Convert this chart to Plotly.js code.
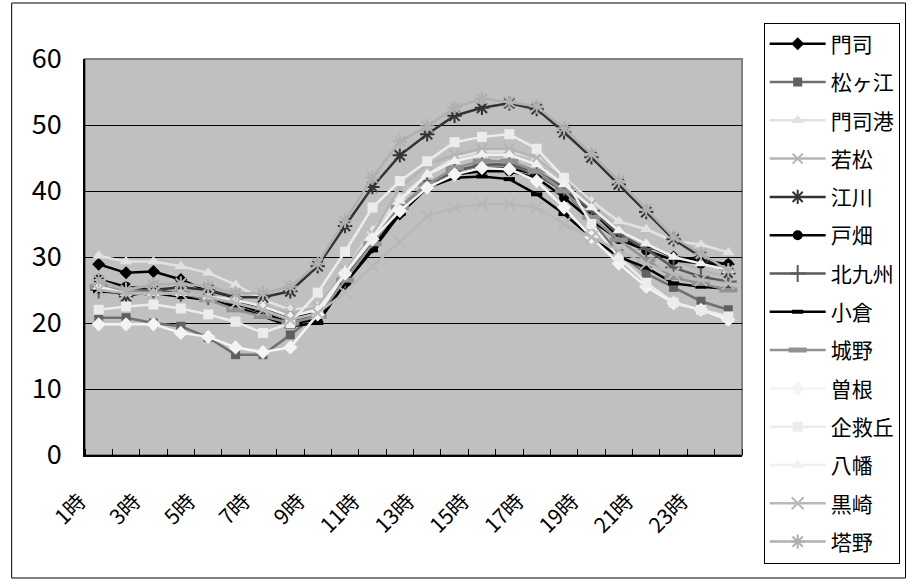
<!DOCTYPE html>
<html><head><meta charset="utf-8">
<script src="https://cdn.plot.ly/plotly-3.0.1.min.js"></script>
<style>html,body{margin:0;padding:0;background:#fff}#chart{width:912px;height:579px}</style>
</head><body><div id="chart"></div>
<script>
const hours = [1,2,3,4,5,6,7,8,9,10,11,12,13,14,15,16,17,18,19,20,21,22,23,24];
const hourLabels = ['1時','2時','3時','4時','5時','6時','7時','8時','9時','10時','11時','12時','13時','14時','15時','16時','17時','18時','19時','20時','21時','22時','23時','24時'];
const seriesNames = ['門司','松ヶ江','門司港','若松','江川','戸畑','北九州','小倉','城野','曽根','企救丘','八幡','黒崎','塔野'];

const moji       = [28.9,27.6,27.8,26.6,24.8,23.5,22.3,21.0,21.5,26.0,31.5,36.5,40.5,42.5,43.5,43.5,42.5,40.0,37.0,33.0,31.5,30.0,29.5,28.9];
const matsugae   = [20.8,20.8,20.0,19.5,17.8,15.2,15.2,18.2,21.5,27.0,32.5,37.5,41.0,43.0,44.0,44.0,42.5,40.0,35.5,30.5,27.5,25.4,23.3,22.0];
const mojiko     = [30.2,29.3,29.3,28.6,27.6,25.8,23.5,22.0,22.5,28.0,34.0,39.0,42.5,45.0,46.0,46.0,45.0,42.0,38.5,35.4,34.2,32.4,31.9,30.7];
const wakamatsu  = [26.0,25.5,25.5,25.0,24.5,23.5,22.5,21.5,22.5,28.0,33.5,40.5,44.0,45.5,46.4,46.4,45.0,41.8,38.0,34.0,31.5,29.5,28.0,27.0];
const egawa      = [25.8,24.0,25.0,25.4,25.0,23.9,23.9,24.8,28.6,34.7,40.6,45.4,48.6,51.4,52.6,53.3,52.4,48.9,45.1,41.0,36.8,32.7,30.0,27.5];
const tobata     = [26.6,25.5,25.0,24.3,24.0,23.0,21.5,20.0,20.5,26.3,32.0,37.0,40.5,42.5,43.0,43.0,42.0,39.0,35.5,32.7,31.0,29.5,29.0,28.9];
const kitakyushu = [25.0,25.0,25.0,24.5,24.0,23.0,22.0,20.5,21.0,26.5,32.0,37.5,41.0,43.0,44.0,44.0,43.0,40.5,37.0,33.5,31.2,28.4,27.0,26.3];
const kokura     = [24.8,24.5,24.5,24.0,23.5,22.5,21.0,19.5,20.0,26.0,31.0,36.5,40.5,42.0,42.2,41.8,39.5,36.5,33.0,30.0,28.4,26.0,25.5,25.2];
const jono       = [25.5,25.0,24.5,24.5,23.5,22.0,21.0,20.0,21.0,26.5,32.0,37.5,41.0,43.5,44.5,44.5,43.0,40.0,36.0,32.6,29.6,26.9,26.0,25.0];
const sone       = [19.8,19.8,19.8,18.5,17.9,16.3,15.6,16.3,21.3,27.5,32.7,37.0,40.5,42.5,43.5,43.3,41.5,37.5,33.0,29.0,25.5,23.0,22.0,20.5];
const kikugaoka  = [22.0,22.5,22.8,22.2,21.3,20.2,18.5,20.0,24.6,30.8,37.5,41.5,44.5,47.4,48.2,48.6,46.4,42.0,35.0,30.0,26.1,23.1,22.0,21.0];
const yahata     = [25.5,24.5,24.5,24.5,24.0,23.5,22.5,21.0,22.0,27.5,33.0,38.5,42.5,44.5,45.5,45.5,44.0,41.0,37.5,34.0,32.0,30.0,29.0,28.0];
const kurosaki   = [25.0,24.5,24.5,24.5,24.0,23.0,22.0,20.5,21.5,24.6,28.6,32.3,36.2,37.5,38.0,38.0,37.5,35.0,33.0,31.0,29.0,27.5,26.5,26.0];
const tono       = [26.5,25.0,25.8,26.0,25.5,24.5,24.5,25.5,29.0,35.5,42.0,47.5,49.8,52.6,54.0,53.5,52.8,49.5,45.6,41.5,37.2,33.0,30.5,28.0];

const seriesValues = [moji,matsugae,mojiko,wakamatsu,egawa,tobata,kitakyushu,kokura,jono,sone,kikugaoka,yahata,kurosaki,tono];

// styles: [line colour, marker symbol, marker size, marker colour, open-line width]
const styles = [
  ['#000000','diamond',10,'#000000',0],
  ['#707070','square',9,'#606060',0],
  ['#e2e2e2','triangle-up',11,'#e2e2e2',0],
  ['#b4b4b4','x-thin-open',10,'#b4b4b4',2],
  ['#333333','asterisk-open',12,'#333333',2],
  ['#000000','circle',10,'#000000',0],
  ['#5a5a5a','cross-thin-open',12,'#5a5a5a',2],
  ['#000000','line-ew-open',8,'#000000',4],
  ['#929292','line-ew-open',13,'#929292',5],
  ['#f4f4f4','diamond',11,'#f4f4f4',0],
  ['#ececec','square',10,'#ececec',0],
  ['#f0f0f0','triangle-up',11,'#f0f0f0',0],
  ['#b8b8b8','x-thin-open',12,'#b8b8b8',2],
  ['#b0b0b0','asterisk-open',12,'#b0b0b0',2]
];

const traces = seriesNames.map((nm,i)=>{
  const s = styles[i];
  return {
    type:'scatter', mode:'lines+markers', name:nm, x:hours, y:seriesValues[i],
    legendgroup:'g'+i,
    line:{color:s[0], width:2.5},
    marker:{symbol:s[1], size:s[2], color:s[3], line:{color:s[3], width:s[4]}}
  };
});

const tickIdx = hours.map((h,i)=>i).filter(i=>i%2===0 && i<23);

const layout = {
  width:912, height:579,
  margin:{l:85, r:164, t:59, b:124},
  paper_bgcolor:'#ffffff', plot_bgcolor:'#c0c0c0',
  font:{family:'"Noto Sans CJK JP", sans-serif', color:'#000'},
  showlegend:true,
  legend:{x:1.033, xanchor:'left', y:1.092, yanchor:'top',
    bordercolor:'#000', borderwidth:1, bgcolor:'#fff',
    font:{size:21, family:'"Noto Sans CJK JP", sans-serif'},
    tracegroupgap:8, itemwidth:56, maxheight:570},
  xaxis:{type:'linear', range:[0.5,24.5], showgrid:false, zeroline:false,
    tickvals:tickIdx.map(i=>hours[i]), ticktext:tickIdx.map(i=>hourLabels[i]),
    tickangle:-45, ticks:'', tickfont:{size:21},
    ticklabelstandoff:24, ticklabelshift:-19,
    showline:true, linecolor:'#000', linewidth:1.5,
    minor:{tick0:0.5, dtick:1, ticks:'inside', ticklen:6, tickcolor:'#000', tickwidth:1, showgrid:false}},
  yaxis:{range:[0,60], dtick:10, showgrid:true, gridcolor:'#000', gridwidth:1,
    zeroline:false, showline:true, linecolor:'#000', linewidth:1.5,
    ticks:'', tickfont:{size:27}, ticklabelstandoff:16},
  shapes:[
    {type:'rect', xref:'paper', yref:'paper', x0:0, x1:1, y0:0, y1:1, line:{color:'#808080', width:2}, layer:'below'},
    {type:'rect', xref:'paper', yref:'paper', x0:-0.1116, x1:1.2489, y0:-0.3106, y1:1.1414, line:{color:'#000', width:1}}
  ]
};

Plotly.newPlot('chart', traces, layout, {displayModeBar:false});
</script></body></html>
